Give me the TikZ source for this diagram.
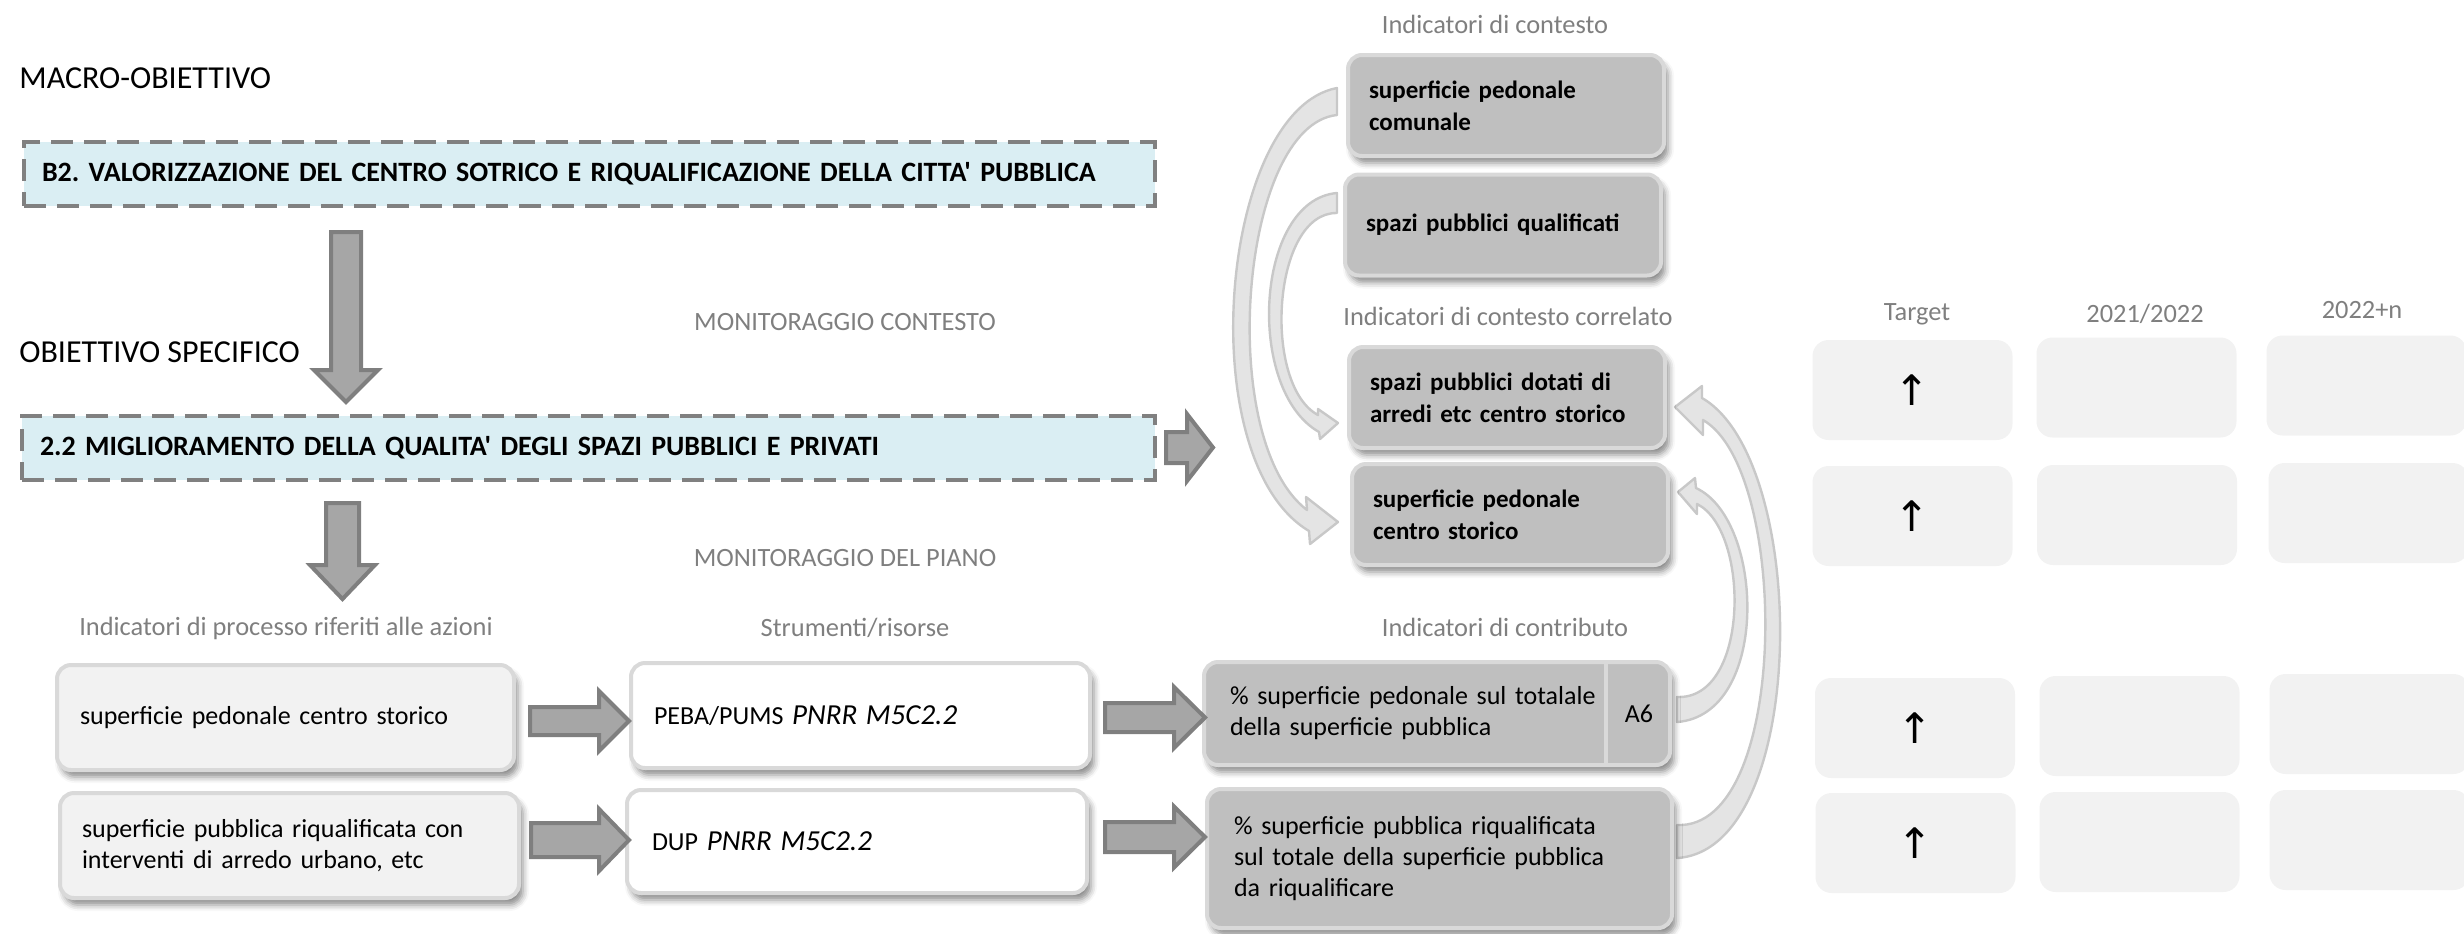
\documentclass[tikz,border=0pt]{standalone}
\usepackage{fontspec}
\setmainfont{Carlito}
\newfontfamily\plaincarlito{Carlito}
\newfontfamily\titlefont{Carlito}[WordSpace=0.75]
\newfontfamily\symfont{DejaVu Sans}
\usetikzlibrary{calc,shadows.blur}
\frenchspacing

\definecolor{bluefill}{HTML}{DAEEF3}
\definecolor{dashgray}{HTML}{808080}
\definecolor{labelgray}{HTML}{7F7F7F}
\definecolor{arrowfill}{HTML}{A6A6A6}
\definecolor{arrowline}{HTML}{7F7F7F}
\definecolor{boxline}{HTML}{D9D9D9}
\definecolor{lightfill}{HTML}{F2F2F2}
\definecolor{midfill}{HTML}{BFBFBF}
\definecolor{curvefill}{HTML}{E4E4E4}
\definecolor{curveline}{HTML}{C8C8C8}

% straight apostrophe (no TeX quote mapping)
\newcommand{\apos}{{\titlefont'}}
\newcommand{\upmark}{{\symfont\fontsize{21}{21}\selectfont ↑}}

\begin{document}
\begin{tikzpicture}[x=0.5pt, y=-0.5pt,
  heading/.style={font=\fontsize{16}{18}\selectfont, inner sep=0pt, anchor=west},
  graylabel/.style={font=\fontsize{13.2}{15}\selectfont, text=labelgray, inner sep=0pt},
  objbox/.style={draw=dashgray, line width=2pt, dash pattern=on 11pt off 5.5pt,
    fill=bluefill, minimum height=32pt, inner xsep=9pt, align=left,
    font=\titlefont\bfseries\fontsize{14}{16}\selectfont},
  softshadow/.style={blur shadow={shadow xshift=2pt, shadow yshift=-3.5pt,
    shadow blur radius=3pt, shadow opacity=45}},
  roundbox/.style={draw=boxline, line width=2pt, rounded corners=7pt, align=left,
    softshadow, font=\fontsize{13}{15.5}\selectfont},
  procbox/.style={roundbox, fill=lightfill},
  toolbox/.style={roundbox, fill=white},
  contbox/.style={roundbox, fill=midfill},
  ctxbox/.style={roundbox, fill=midfill, font=\bfseries\fontsize{12.5}{16}\selectfont,
    text width=137pt, inner xsep=10.5pt, minimum height=50.5pt},
  cell/.style={fill=lightfill, rounded corners=8pt, minimum width=100pt,
    minimum height=50pt, inner sep=0pt},
  blockarrow/.style={fill=arrowfill, draw=arrowline, line width=2pt, line join=miter},
  curvearrow/.style={fill=curvefill, draw=curveline, line width=1.2pt, line join=round},
  pics/barrow/.style n args={4}{code={
    \draw[blockarrow] (0,-#3) -- ({#1-#2},-#3) -- ({#1-#2},-#4) -- (#1,0)
      -- ({#1-#2},#4) -- ({#1-#2},#3) -- (0,#3) -- cycle;}}
]
\useasboundingbox (0,0) rectangle (2464,933);

% ---------- objectives ----------
\node[heading] (macro) at (19,78) {MACRO-OBIETTIVO};
\node[objbox, text width=547.5pt] (b2) at (589.5,174)
  {B2. VALORIZZAZIONE DEL CENTRO SOTRICO E RIQUALIFICAZIONE DELLA CITTA\apos{} PUBBLICA};
\node[heading] (ospec) at (19,352) {OBIETTIVO SPECIFICO};
\node[objbox, text width=548.5pt] (s22) at (588.5,448)
  {2.2 MIGLIORAMENTO DELLA QUALITA\apos{} DEGLI SPAZI PUBBLICI E PRIVATI};

\node[graylabel] (moncont) at (845,322) {MONITORAGGIO CONTESTO};
\node[graylabel] (monpiano) at (845,558) {MONITORAGGIO DEL PIANO};

% ---------- column headings ----------
\node[graylabel] (hproc) at (286,628) {Indicatori di processo riferiti alle azioni};
\node[graylabel] (hstru) at (855,628) {Strumenti/risorse};
\node[graylabel] (hcontr) at (1505,627) {Indicatori di contributo};
\node[graylabel] (hctx) at (1495,24) {Indicatori di contesto};
\node[graylabel] (hcorr) at (1508,316) {Indicatori di contesto correlato};
\node[graylabel] (htarget) at (1917,314) {Target};
\node[graylabel] (hyear) at (2145,314) {2021/2022};
\node[graylabel] (hnext) at (2362,310) {2022+n};

% ---------- curved context arrows (drawn below the boxes) ----------
\coordinate (aT) at (1337,101);
\coordinate (aH) at (1338,522);
\coordinate (bT) at (1337,203);
\coordinate (bH) at (1338,423);
\coordinate (cT) at (1677,709.5);
\coordinate (cH) at (1678,492);
\coordinate (dT) at (1677,841.5);
\coordinate (dH) at (1675,407);

\draw[curvearrow] ($(aT)+(0,-13)$) .. controls ($(aT)+(-117,9)$) and ($(aH)+(-148,-62)$) .. ($(aH)+(-29,9)$)
  -- ($(aH)+(-28,22)$) -- (aH) -- ($(aH)+(-32,-25)$) -- ($(aH)+(-31,-12)$)
  .. controls ($(aH)+(-123,-82)$) and ($(aT)+(-97,24)$) .. ($(aT)+(0,14)$) -- cycle;
\draw[curvearrow] ($(bT)+(0,-10)$) .. controls ($(bT)+(-82,-3)$) and ($(bH)+(-93,-33)$) .. ($(bH)+(-19,9)$)
  -- ($(bH)+(-18,16)$) -- (bH) -- ($(bH)+(-20,-14)$) -- ($(bH)+(-20,-8)$)
  .. controls ($(bH)+(-76,-38)$) and ($(bT)+(-65,9)$) .. ($(bT)+(0,10)$) -- cycle;
\draw[curvearrow] ($(cT)+(0,12.5)$) .. controls ($(cT)+(93,5.5)$) and ($(cH)+(87,28)$) .. ($(cH)+(18,-4)$)
  -- ($(cH)+(17,-14)$) -- (cH) -- ($(cH)+(19,22)$) -- ($(cH)+(19,12)$)
  .. controls ($(cH)+(72,38)$) and ($(cT)+(73,-9.5)$) .. ($(cT)+(0,-12.5)$) -- cycle;
\draw[curvearrow] ($(dT)+(0,16.5)$) .. controls ($(dT)+(133,8.5)$) and ($(dH)+(135,53)$) .. ($(dH)+(27,-9)$)
  -- ($(dH)+(27,-21)$) -- (dH) -- ($(dH)+(28,28)$) -- ($(dH)+(28,13)$)
  .. controls ($(dH)+(115,63)$) and ($(dT)+(113,-11.5)$) .. ($(dT)+(0,-16.5)$) -- cycle;

% ---------- context indicators ----------
\node[ctxbox] (k1) at (1506,105.5) {superficie pedonale\\comunale};
\node[ctxbox] (k2) at (1503,225) {spazi pubblici qualificati};
\node[ctxbox] (k3) at (1507,397.5) {spazi pubblici dotati di\\arredi etc centro storico};
\node[ctxbox] (k4) at (1510,514.5) {superficie pedonale\\centro storico};

% ---------- process indicators ----------
\node[procbox, text width=205.5pt, inner xsep=11.5pt, minimum height=52.5pt] (p1) at (285.5,717.5)
  {superficie pedonale centro storico};
\node[procbox, text width=207.5pt, inner xsep=11pt, minimum height=52.5pt] (p2) at (289.5,845.5)
  {superficie pubblica riqualificata con\\interventi di arredo urbano, etc};

% ---------- tools / resources ----------
\node[toolbox, text width=206.5pt, inner xsep=11.5pt, minimum height=52.5pt] (s1) at (860.5,715.5)
  {PEBA/PUMS {\itshape\fontsize{14.5}{15.5}\selectfont PNRR M5C2.2}};
\node[toolbox, text width=205pt, inner xsep=12.5pt, minimum height=51.5pt] (s2) at (857,841.5)
  {DUP {\itshape\fontsize{14.5}{15.5}\selectfont PNRR M5C2.2}};

% ---------- contribution indicators ----------
\node[contbox, text width=207pt, inner xsep=13pt, minimum height=51.5pt] (c1) at (1437,713.5)
  {\% superficie pedonale sul totalale\\della superficie pubblica};
\draw[boxline, line width=2pt] ($(c1.north west)+(404,0)$) -- ($(c1.south west)+(404,0)$);
\node[font=\fontsize{13}{15.5}\selectfont, inner sep=0pt] (a6) at (1639,713.5) {A6};
\node[contbox, text width=205.5pt, inner xsep=13.5pt, minimum height=69.5pt] (c2) at (1439.5,858.5)
  {\% superficie pubblica riqualificata\\sul totale della superficie pubblica\\da riqualificare};

% ---------- block arrows ----------
\pic[rotate=-90] at ($(b2.south west)+(324,24)$) {barrow={170}{32}{15}{32}};
\pic[rotate=-90] at ($(s22.south west)+(322.5,21)$) {barrow={96}{34}{16.5}{32.5}};
\pic at ($(s22.east)+(9,-0.5)$) {barrow={47}{26}{15.5}{33.5}};
\pic at ($(p1.east)+(14,3.5)$) {barrow={99}{30}{14}{30}};
\pic at ($(p2.east)+(10,-5.5)$) {barrow={98}{30}{17}{31}};
\pic at ($(s1.east)+(13,2)$) {barrow={100}{31}{14.5}{30.5}};
\pic at ($(s2.east)+(16,-4.5)$) {barrow={100}{31}{15}{30.5}};

% ---------- target / monitoring table ----------
\node[cell] (t1) at (1912.5,390) {\upmark};
\node[cell] (y1) at (2136.5,387.5) {};
\node[cell] (n1) at (2366.5,385.5) {};
\node[cell] (t2) at (1912.5,516) {\upmark};
\node[cell] (y2) at (2137,515) {};
\node[cell] (n2) at (2368.5,513) {};
\node[cell] (t3) at (1915,728) {\upmark};
\node[cell] (y3) at (2139.5,726) {};
\node[cell] (n3) at (2369.5,724) {};
\node[cell] (t4) at (1915.5,843) {\upmark};
\node[cell] (y4) at (2139.5,842) {};
\node[cell] (n4) at (2369.5,840) {};
\end{tikzpicture}
\end{document}
